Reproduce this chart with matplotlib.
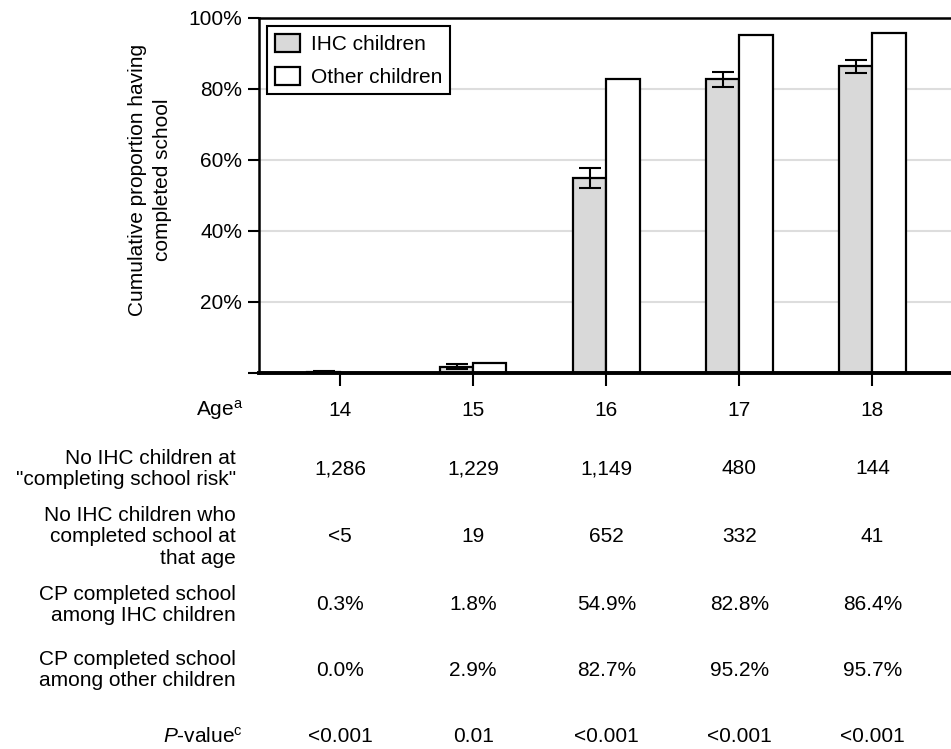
import numpy as np
import matplotlib.pyplot as plt
from matplotlib.transforms import blended_transform_factory

ages = [14, 15, 16, 17, 18]
ihc_cp = [0.3, 1.8, 54.9, 82.8, 86.4]
ihc_lo = [0.0, 1.2, 52.1, 80.6, 84.5]
ihc_hi = [0.6, 2.6, 57.7, 84.8, 88.2]
other_cp = [0.0, 2.9, 82.7, 95.2, 95.7]

row_labels = [
    'Age$^{\\mathrm{a}}$',
    'No IHC children at\n"completing school risk"',
    'No IHC children who\ncompleted school at\nthat age',
    'CP completed school\namong IHC children',
    'CP completed school\namong other children',
    '$\\mathit{P}$-value$^{\\mathrm{c}}$',
]
at_risk = ['1,286', '1,229', '1,149', '480', '144']
completed = ['<5', '19', '652', '332', '41']
cp_ihc_txt = ['0.3%', '1.8%', '54.9%', '82.8%', '86.4%']
cp_other_txt = ['0.0%', '2.9%', '82.7%', '95.2%', '95.7%']
p_values = ['<0.001', '0.01', '<0.001', '<0.001', '<0.001']

plt.rcParams['font.family'] = ['Liberation Sans', 'DejaVu Sans']
plt.rcParams['mathtext.fontset'] = 'custom'
plt.rcParams['mathtext.rm'] = 'Liberation Sans'
plt.rcParams['mathtext.it'] = 'Liberation Sans:italic'
plt.rcParams['font.size'] = 15

fig = plt.figure(figsize=(9.51, 7.49), dpi=100)
ax = fig.add_axes([0.2723, 0.502, 0.7277, 0.474])

x = np.array(ages, dtype=float)
w = 0.25
ihc = np.array(ihc_cp)
yerr = [ihc - np.array(ihc_lo), np.array(ihc_hi) - ihc]

ax.bar(x - w / 2, ihc_cp, w, color='#d9d9d9', edgecolor='black', linewidth=1.6,
       label='IHC children', zorder=3)
ax.bar(x + w / 2, other_cp, w, color='white', edgecolor='black', linewidth=1.6,
       label='Other children', zorder=3)
ax.errorbar(x - w / 2, ihc_cp, yerr=yerr, fmt='none', ecolor='black',
            elinewidth=1.5, capsize=8, capthick=1.5, zorder=4)

ax.set_xlim(13.39, 18.59)
ax.set_ylim(0, 100)
ax.set_yticks([0, 20, 40, 60, 80, 100])
ax.set_yticklabels(['', '20%', '40%', '60%', '80%', '100%'])
ax.set_xticks(ages)
ax.set_xticklabels([])
ax.tick_params(axis='y', length=8, width=1.5, pad=4)
ax.tick_params(axis='x', length=9, width=1.5)
for yv in [20, 40, 60, 80]:
    ax.axhline(yv, color='#dddddd', linewidth=1.5, zorder=1)

ax.spines['right'].set_visible(False)
ax.spines['left'].set_linewidth(1.8)
ax.spines['top'].set_linewidth(1.8)
ax.spines['bottom'].set_linewidth(2.8)
ax.spines['bottom'].set_zorder(5)

leg = ax.legend(loc='upper left', bbox_to_anchor=(0.0, 1.0), frameon=True,
                fancybox=False, edgecolor='black', handlelength=1.2,
                handleheight=1.0, handletextpad=0.55, labelspacing=0.6,
                borderpad=0.35, borderaxespad=0.4, fontsize=15)
leg.get_frame().set_linewidth(1.5)
leg.get_frame().set_alpha(1)

fig.text(150 / 951, 1 - 180 / 749,
         'Cumulative proportion having\ncompleted school',
         rotation=90, ha='center', va='center', linespacing=1.4)

# table under the chart
rows = [[str(a) for a in ages], at_risk, completed, cp_ihc_txt, cp_other_txt, p_values]
row_y = [410, 469, 537, 605, 670, 737]
trans = blended_transform_factory(ax.transData, fig.transFigure)
for label, vals, yp in zip(row_labels, rows, row_y):
    yf = 1 - yp / 749
    fig.text(236 / 951 if '\n' in label else 243 / 951, yf, label,
             ha='right', va='center', linespacing=1.15)
    for xv, v in zip(ages, vals):
        ax.text(xv, yf, v, transform=trans, ha='center', va='center', clip_on=False)

fig.savefig('out.png', dpi=100)
